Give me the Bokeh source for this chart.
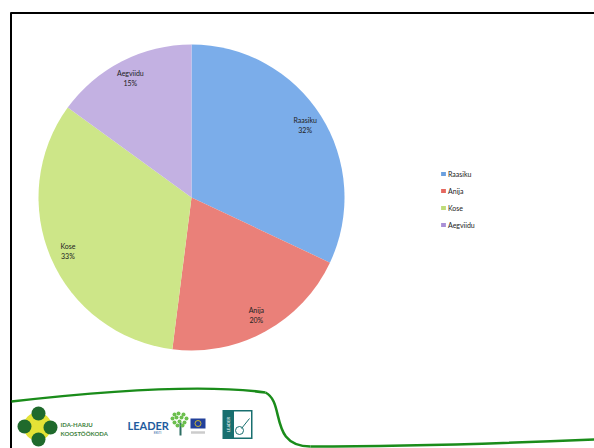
import math
from bokeh.plotting import figure
from bokeh.models import Range1d, Legend, LegendItem, ColumnDataSource
from bokeh.core.properties import value
from bokeh.embed import file_html
from bokeh.resources import INLINE

# ---- data ----
names = ["Raasiku", "Anija", "Kose", "Aegviidu"]
shares = [32, 20, 33, 15]
colors = ["#7badea", "#ea8079", "#cde688", "#c3b1e2"]
legend_colors = ["#6aa0e0", "#e5675f", "#bfdc78", "#a98fd6"]

W, H = 594, 448
# coordinates: x = page x, y = 448 - page y
def Y(v):
    return H - v

p = figure(width=W, height=H, x_range=Range1d(0, W), y_range=Range1d(0, H),
           output_backend="svg", toolbar_location=None, min_border=0)
p.axis.visible = False
p.grid.visible = False
p.outline_line_color = None
p.background_fill_color = "white"
p.border_fill_color = "white"

# ---- pie ----
cx, cy, R = 191, Y(197), 153
total = sum(shares)
starts, ends, lx, ly, labels = [], [], [], [], []
acc = 0.0
for n, s in zip(names, shares):
    a0 = math.pi / 2 - 2 * math.pi * acc / total
    acc += s
    a1 = math.pi / 2 - 2 * math.pi * acc / total
    starts.append(a0)
    ends.append(a1)
    mid = (a0 + a1) / 2
    lx.append(cx + 0.88 * R * math.cos(mid))
    ly.append(cy + 0.88 * R * math.sin(mid))
    labels.append(f"{n}\n{round(100 * s / total)}%")

src = ColumnDataSource(dict(start=starts, end=ends, color=colors, name=names))
wr = p.wedge(x=cx, y=cy, radius=R, radius_units="screen", start_angle="start", end_angle="end",
             direction="clock", fill_color="color", line_color=None, source=src)

p.text(x=lx, y=ly, text=labels, text_align="center", text_baseline="middle",
       text_font=value("Lato"), text_font_size="7px", text_color="#222222",
       text_line_height=1.25)

# legend swatches via zero-size rect renderers
items = []
for n, c in zip(names, legend_colors):
    r = p.rect(x=[cx], y=[cy], width=0, height=0, fill_color=c, line_color=None)
    items.append(LegendItem(label=n, renderers=[r]))
legend = Legend(items=items, location=(440, 218), orientation="vertical",
                glyph_width=6, glyph_height=5, label_height=11, spacing=6,
                label_standoff=2, padding=0, margin=0,
                label_text_font="Lato", label_text_font_size="7px", label_text_color="#222222",
                border_line_color=None, background_fill_alpha=0)
p.add_layout(legend, "center")

# ---- slide decoration ----
p.segment(x0=[10, 10.5], y0=[Y(12.5), Y(12)], x1=[W, 10.5], y1=[Y(12.5), 0],
          line_color="black", line_width=2)

p.bezier(x0=[11, 265, 310], y0=[Y(401), Y(392), Y(446)],
         x1=[265, 310, W], y1=[Y(392), Y(446), Y(439)],
         cx0=[90, 285, 400], cy0=[Y(392), Y(402), Y(446)],
         cx1=[200, 268, 500], cy1=[Y(383), Y(446), Y(443)],
         line_color="#1a8c1a", line_width=2.5)

# Ida-Harju logo
p.scatter(x=[37], y=[Y(426)], marker="square", size=26, angle=math.pi / 4,
          fill_color="#e4e236", line_color=None)
p.scatter(x=[37], y=[Y(426)], marker="circle", size=28, fill_color="#e4e236", line_color=None)
p.scatter(x=[38, 24, 50, 38], y=[Y(413), Y(426), Y(427), Y(439)], marker="circle", size=14,
          fill_color="#1f6a2c", line_color=None)
p.text(x=[60, 60], y=[Y(423.5), Y(433)], text=["IDA-HARJU", "KOOSTÖÖKODA"],
       text_font=value("Lato"), text_font_size="6px", text_font_style="bold",
       text_color="#3d7f3a", text_baseline="middle", text_align="left")

# LEADER Eesti
p.text(x=[127], y=[Y(425)], text=["LEADER"], text_font=value("Lato"), text_font_size="11px",
       text_font_style="bold", text_color="#1f5c9e", text_baseline="middle")
p.text(x=[157], y=[Y(432.5)], text=["EESTI"], text_font=value("Lato"), text_font_size="3px",
       text_color="#1f5c9e", text_baseline="middle", text_align="center")
p.segment(x0=[180], y0=[Y(422)], x1=[180], y1=[Y(435)], line_color="#2d6e63", line_width=2)
p.scatter(x=[174, 178, 183, 172, 176, 181, 186, 174, 179, 184, 177, 182],
          y=[Y(414), Y(413), Y(414), Y(418), Y(417), Y(417), Y(418), Y(422), Y(421), Y(422), Y(425), Y(425)],
          marker="circle", size=4, fill_color="#6cbf4e", line_color=None)
p.rect(x=[197.5], y=[Y(423)], width=15, height=10, fill_color="#22409a", line_color=None)
p.scatter(x=[197.5], y=[Y(423)], marker="circle", size=6, fill_color=None, line_color="#f2d21c", line_width=0.8)
p.rect(x=[197.5], y=[Y(432)], width=14, height=2.5, fill_color="#cccccc", line_color=None)

# LEADER square
p.rect(x=[237], y=[Y(424)], width=30, height=29, fill_color="#186f6f", line_color=None)
p.rect(x=[242], y=[Y(424)], width=17, height=26, fill_color="white", line_color=None)
p.scatter(x=[239], y=[Y(430)], marker="circle", size=8, fill_color=None, line_color="#186f6f", line_width=1)
p.segment(x0=[241], y0=[Y(428)], x1=[249], y1=[Y(418)], line_color="#186f6f", line_width=1)
p.text(x=[228], y=[Y(424)], text=["LEADER"], angle=math.pi / 2, text_font=value("Lato"),
       text_font_size="4px", text_color="white", text_align="center", text_baseline="middle")

open("out.html", "w").write(file_html(p, INLINE))
